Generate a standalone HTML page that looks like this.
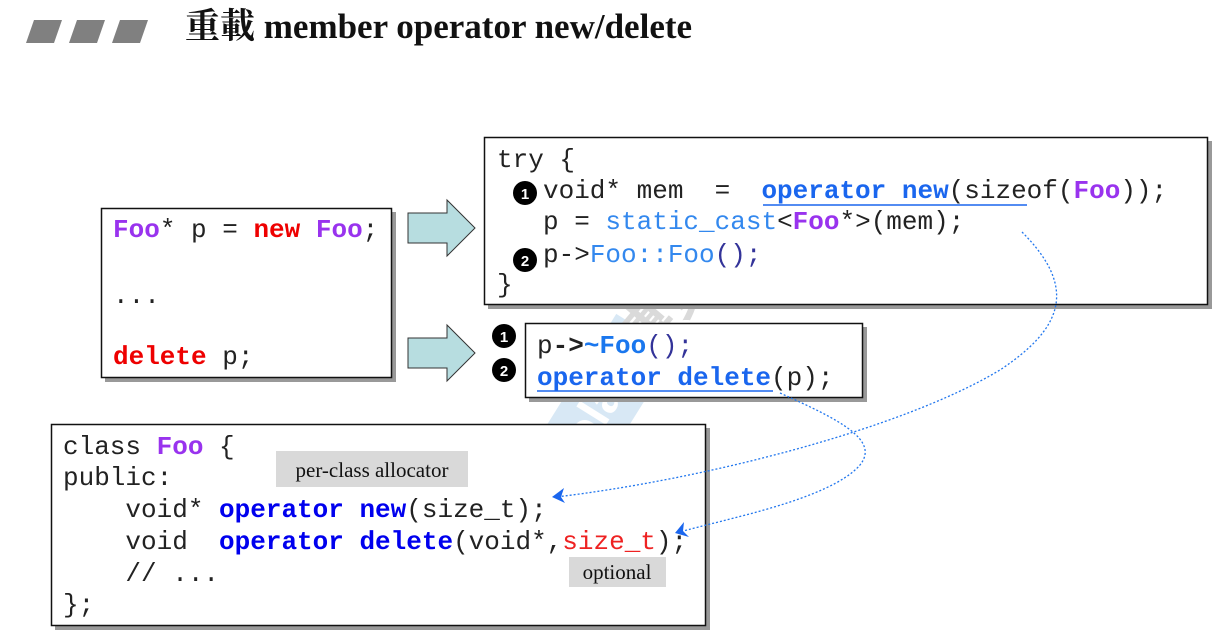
<!DOCTYPE html>
<html><head><meta charset="utf-8"><style>
html,body{margin:0;padding:0;background:#fff;}
svg{display:block;}
text{white-space:pre;}
.c{font-family:"Liberation Mono",monospace;font-size:26px;fill:#222;}
.b{font-weight:bold;}
</style></head><body>
<svg width="1217" height="637" viewBox="0 0 1217 637" xmlns="http://www.w3.org/2000/svg" xml:space="preserve">
<!-- title -->
<polygon points="34,20 62,20 54,43 26,43" fill="#808080"/>
<polygon points="77,20 105,20 97,43 69,43" fill="#808080"/>
<polygon points="120,20 148,20 140,43 112,43" fill="#808080"/>
<text x="185" y="38" font-family="'Liberation Serif','Noto Serif CJK SC',serif" font-size="35" font-weight="bold" fill="#111">重載 member operator new/delete</text>

<!-- watermark -->
<g opacity="0.3">
<rect x="470" y="395" width="230" height="70" fill="#7fb6e0" transform="rotate(-58 585 430)"/>
<text x="585" y="445" font-family="'Liberation Sans',sans-serif" font-size="48" font-weight="bold" fill="#fff" text-anchor="middle" transform="rotate(-58 585 430)">Boolan</text>
<text x="700" y="300" font-family="'Noto Sans CJK SC',sans-serif" font-size="60" font-weight="bold" fill="#888" text-anchor="middle" transform="rotate(-50 700 300)">博览网</text>
</g>

<!-- shadows -->
<rect x="105" y="212" width="291" height="170" fill="#999"/>
<rect x="488" y="141" width="724" height="168" fill="#999"/>
<rect x="529" y="327" width="338" height="75" fill="#999"/>
<rect x="55" y="428" width="655" height="202" fill="#999"/>
<!-- boxes -->
<rect x="101.5" y="208.5" width="290" height="169" fill="#fff" stroke="#111" stroke-width="1.5"/>
<rect x="484.5" y="137.5" width="723" height="167" fill="#fff" stroke="#111" stroke-width="1.5"/>
<rect x="525.5" y="323.5" width="337" height="74" fill="#fff" stroke="#111" stroke-width="1.5"/>
<rect x="51.5" y="424.5" width="654" height="201" fill="#fff" stroke="#111" stroke-width="1.5"/>

<!-- big arrows -->
<polygon points="408,213 447,213 447,200 475,228 447,256 447,243 408,243" fill="#b7dde0" stroke="#333" stroke-width="1"/>
<polygon points="408,338 447,338 447,325 475,353 447,381 447,368 408,368" fill="#b7dde0" stroke="#333" stroke-width="1"/>

<!-- left box -->
<text class="c" x="113" y="237"><tspan class="b" fill="#9933ee">Foo</tspan>* p = <tspan class="b" fill="#ee0000">new</tspan> <tspan class="b" fill="#9933ee">Foo</tspan>;</text>
<text class="c" x="113" y="303">...</text>
<text class="c" x="113" y="364"><tspan class="b" fill="#ee0000">delete</tspan> p;</text>

<!-- try box -->
<text class="c" x="497" y="167">try {</text>
<circle cx="525" cy="193" r="12" fill="#000"/><text x="525" y="199" font-family="'Liberation Sans',sans-serif" font-size="15" font-weight="bold" fill="#fff" text-anchor="middle">1</text>
<text class="c" x="543" y="198">void* mem  =  <tspan class="b" fill="#1a66ee">operator new</tspan>(sizeof(<tspan class="b" fill="#9933ee">Foo</tspan>));</text>
<line x1="763" y1="205" x2="1027" y2="205" stroke="#1a66ee" stroke-width="1.5"/>
<text class="c" x="543" y="229">p = <tspan fill="#3388ee">static_cast</tspan>&lt;<tspan class="b" fill="#9933ee">Foo</tspan>*&gt;(mem);</text>
<circle cx="525" cy="260" r="12" fill="#000"/><text x="525" y="266" font-family="'Liberation Sans',sans-serif" font-size="15" font-weight="bold" fill="#fff" text-anchor="middle">2</text>
<text class="c" x="543" y="262">p-&gt;<tspan fill="#3388ee">Foo::Foo</tspan><tspan fill="#333399">();</tspan></text>
<text class="c" x="497" y="292">}</text>

<!-- delete box -->
<circle cx="504" cy="336" r="12" fill="#000"/><text x="504" y="342" font-family="'Liberation Sans',sans-serif" font-size="15" font-weight="bold" fill="#fff" text-anchor="middle">1</text>
<circle cx="504" cy="370" r="12" fill="#000"/><text x="504" y="376" font-family="'Liberation Sans',sans-serif" font-size="15" font-weight="bold" fill="#fff" text-anchor="middle">2</text>
<text class="c" x="537" y="353">p<tspan class="b">-&gt;</tspan><tspan class="b" fill="#1a77ee">~Foo</tspan><tspan fill="#333399">();</tspan></text>
<text class="c" x="537" y="385"><tspan class="b" fill="#1a66ee">operator delete</tspan>(p);</text>
<line x1="537" y1="391" x2="773" y2="391" stroke="#1a66ee" stroke-width="1.5"/>

<!-- class box -->
<text class="c" x="63" y="454">class <tspan class="b" fill="#9933ee">Foo</tspan> {</text>
<text class="c" x="63" y="485">public:</text>
<text class="c" x="63" y="517">    void* <tspan class="b" fill="#0000ee">operator new</tspan>(size_t);</text>
<text class="c" x="63" y="549">    void  <tspan class="b" fill="#0000ee">operator delete</tspan>(void*,<tspan fill="#ee2222">size_t</tspan>);</text>
<text class="c" x="63" y="581">    // ...</text>
<text class="c" x="63" y="612">};</text>

<rect x="276" y="451" width="192" height="36" fill="#d9d9d9"/>
<text x="372" y="477" font-family="'Liberation Serif',serif" font-size="21" fill="#111" text-anchor="middle">per-class allocator</text>
<rect x="569" y="557" width="97" height="30" fill="#d9d9d9"/>
<text x="617" y="579" font-family="'Liberation Serif',serif" font-size="21" fill="#111" text-anchor="middle">optional</text>

<!-- dotted connectors -->
<path d="M1022,232 C1080,290 1060,330 1000,370 C900,430 700,480 556,497" fill="none" stroke="#2277ee" stroke-width="1.3" stroke-dasharray="2,2"/>
<path d="M780,393 C840,420 880,440 860,465 C830,500 720,520 680,532" fill="none" stroke="#2277ee" stroke-width="1.3" stroke-dasharray="2,2"/>
<polygon points="552,497 564,488 561,497 565,503" fill="#1a66ee"/>
<polygon points="675,533 684,522 683,531 689,537" fill="#1a66ee"/>
</svg>
</body></html>
